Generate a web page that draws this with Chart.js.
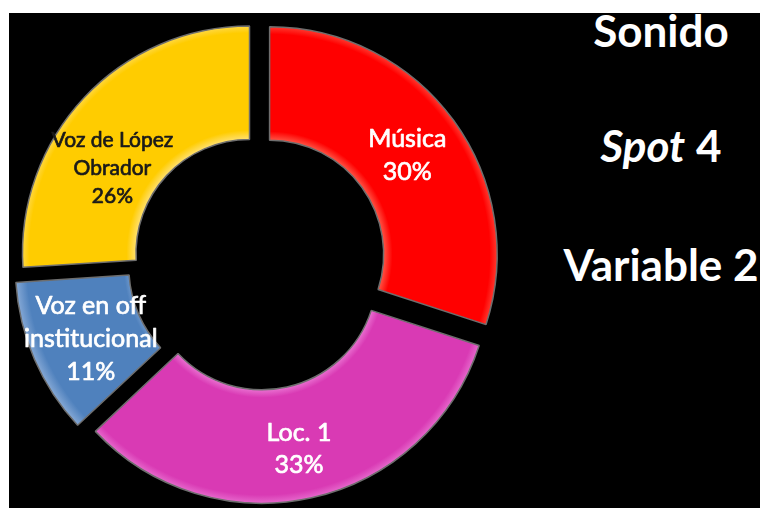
<!DOCTYPE html>
<html lang="es">
<head>
<meta charset="utf-8">
<title>Sonido - Spot 4 - Variable 2</title>
<script src="https://cdn.jsdelivr.net/npm/chart.js@4.4.1/dist/chart.umd.min.js"></script>
<style>
  html, body { margin: 0; padding: 0; background: #fff; overflow: hidden; width: 760px; height: 508px; }
  .stage { position: absolute; left: 9px; top: 13px; width: 751px; height: 495px; background: #000; }
  .chart-box { position: absolute; left: 0; top: 0; width: 518px; height: 524px; }
  .title {
    position: absolute; left: 560px; width: 202px; text-align: center;
    font-family: Lato, "Open Sans", sans-serif; font-weight: bold; font-size: 44px;
    line-height: 44px; color: #fff; white-space: nowrap;
  }
</style>
</head>
<body>
<div class="stage"></div>
<div class="chart-box"><canvas id="sound"></canvas></div>
<div class="title" style="top: 8px;">Sonido</div>
<div class="title" style="top: 123px;"><i>Spot</i> 4</div>
<div class="title" style="top: 242px;">Variable 2</div>

<script>
const labels = ['Música', 'Loc. 1', 'Voz en off institucional', 'Voz de López Obrador'];
const labelLines = [['Música'], ['Loc. 1'], ['Voz en off', 'institucional'], ['Voz de López', 'Obrador']];
const shares = [30, 33, 11, 26];

const sliceColors = ['#ff0000', '#d93ab4', '#4f81bd', '#ffcc00'];
const sliceRims = ['#ff5a4a', '#ec7ad6', '#86a9d6', '#ffe070'];
const textColors = ['#ffffff', '#ffffff', '#ffffff', '#1a1a1a'];
const textSizes = [25, 25, 25, 21];
const lineHeights = [33, 32, 33, 28];
const labelNudge = [[0, 1], [0, 8], [0, 4], [-13, 32]];

const EXPLODE = 13;   // px each slice is pulled out
const RADIUS = 227;

// soft bevel: lighter rim on the inner and outer edge of each slice
function bevel(ctx) {
  const base = sliceColors[ctx.dataIndex];
  const area = ctx.chart.chartArea;
  if (!area) return base;
  const cx = (area.left + area.right) / 2;
  const cy = (area.top + area.bottom) / 2;
  const g = ctx.chart.ctx.createRadialGradient(cx, cy, RADIUS * 0.5, cx, cy, RADIUS + 5);
  const rim = sliceRims[ctx.dataIndex];
  g.addColorStop(0, rim);
  g.addColorStop(0.08, base);
  g.addColorStop(0.9, base);
  g.addColorStop(1, rim);
  return g;
}

const sliceLabels = {
  id: 'sliceLabels',
  afterDatasetsDraw(chart) {
    const c = chart.ctx;
    const meta = chart.getDatasetMeta(0);
    c.save();
    c.textAlign = 'center';
    c.textBaseline = 'middle';
    c.lineJoin = 'round';
    meta.data.forEach((arc, i) => {
      const p = arc.getProps(['x', 'y', 'startAngle', 'endAngle', 'innerRadius', 'outerRadius'], true);
      const mid = (p.startAngle + p.endAngle) / 2;
      const r = (p.innerRadius + p.outerRadius) / 2 + EXPLODE;
      const x = p.x + Math.cos(mid) * r + labelNudge[i][0];
      const y = p.y + Math.sin(mid) * r + labelNudge[i][1];
      const lines = labelLines[i].concat([shares[i] + '%']);
      const lh = lineHeights[i];
      const top = y - (lines.length - 1) * lh / 2;
      c.font = textSizes[i] + 'px Lato, "Open Sans", sans-serif';
      c.fillStyle = textColors[i];
      c.strokeStyle = textColors[i];
      c.lineWidth = 0.7;   // thicken the strokes a little
      lines.forEach((t, k) => {
        c.fillText(t, x, top + k * lh);
        c.strokeText(t, x, top + k * lh);
      });
    });
    c.restore();
  }
};

new Chart(document.getElementById('sound'), {
  type: 'doughnut',
  data: {
    labels: labels,
    datasets: [{
      data: shares,
      backgroundColor: bevel,
      borderColor: '#6e6e6e',
      borderWidth: 1.5,
      offset: EXPLODE * 4
    }]
  },
  options: {
    responsive: true,
    maintainAspectRatio: false,
    animation: false,
    events: [],
    radius: RADIUS,
    cutout: '50%',
    layout: { padding: 0 },
    plugins: {
      legend: { display: false },
      tooltip: { enabled: false }
    }
  },
  plugins: [sliceLabels]
});
</script>
</body>
</html>
